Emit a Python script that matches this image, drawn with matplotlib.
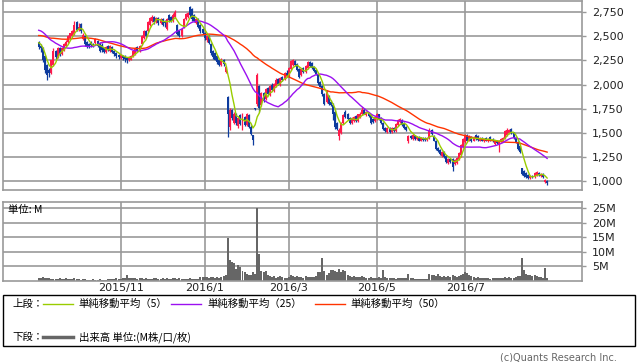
import numpy as np
import pandas as pd
import matplotlib
matplotlib.use('Agg')
import matplotlib.pyplot as plt
from matplotlib.lines import Line2D
from matplotlib.patches import Rectangle
from matplotlib.ticker import FuncFormatter

#%% Data (daily OHLC, volume in millions)
open_ = [2440, 2400, 2380, 2300, 2200, 2150, 2120, 2200, 2350, 2290,
         2380, 2320, 2360, 2400, 2440, 2480, 2500, 2520, 2650, 2570,
         2630, 2470, 2500, 2440, 2420, 2440, 2420, 2430, 2450, 2430,
         2410, 2380, 2340, 2400, 2350, 2390, 2350, 2330, 2310, 2280,
         2300, 2300, 2280, 2250, 2260, 2300, 2320, 2390, 2350, 2420,
         2480, 2560, 2560, 2620, 2660, 2700, 2650, 2690, 2640, 2680,
         2660, 2580, 2720, 2700, 2660, 2700, 2620, 2560, 2500, 2600,
         2680, 2700, 2800, 2780, 2720, 2640, 2680, 2620, 2580, 2540,
         2460, 2500, 2420, 2350, 2330, 2300, 2260, 2200, 2260, 2130,
         1870, 1560, 1740, 1600, 1700, 1570, 1680, 1560, 1660, 1580,
         1680, 1560, 1480, 1755, 1800, 1990, 1790, 1910, 1850, 1960,
         1890, 2000, 1930, 1990, 2060, 2000, 2080, 2060, 2120, 2090,
         2160, 2200, 2240, 2210, 2160, 2100, 2170, 2130, 2170, 2230,
         2220, 2180, 2150, 2100, 2030, 1990, 1900, 1820, 1880, 1820,
         1790, 1720, 1600, 1470, 1500, 1600, 1720, 1700, 1650, 1600,
         1620, 1670, 1620, 1660, 1690, 1740, 1680, 1710, 1680, 1640,
         1620, 1640, 1690, 1650, 1600, 1550, 1510, 1550, 1510, 1550,
         1520, 1580, 1610, 1630, 1600, 1560, 1410, 1470, 1440, 1470,
         1440, 1460, 1420, 1450, 1450, 1430, 1450, 1530, 1470, 1420,
         1340, 1320, 1260, 1300, 1260, 1190, 1230, 1230, 1180, 1190,
         1230, 1270, 1350, 1400, 1480, 1420, 1460, 1420, 1480, 1470,
         1420, 1450, 1410, 1450, 1410, 1460, 1440, 1380, 1420, 1370,
         1410, 1430, 1450, 1480, 1500, 1540, 1500, 1450, 1400, 1360,
         1130, 1100, 1080, 1060, 1030, 1050, 1040, 1060, 1080, 1050,
         1070, 985, 1005]
close = [2390, 2380, 2250, 2150, 2100, 2120, 2250, 2350, 2290, 2380,
         2320, 2380, 2420, 2440, 2500, 2530, 2560, 2620, 2570, 2600,
         2560, 2510, 2420, 2390, 2400, 2410, 2400, 2470, 2400, 2350,
         2360, 2340, 2390, 2360, 2400, 2340, 2320, 2300, 2290, 2310,
         2280, 2270, 2260, 2290, 2300, 2350, 2380, 2350, 2400, 2500,
         2560, 2500, 2650, 2690, 2700, 2650, 2690, 2640, 2680, 2620,
         2640, 2680, 2670, 2660, 2720, 2750, 2520, 2500, 2580, 2680,
         2730, 2740, 2720, 2680, 2660, 2680, 2600, 2560, 2540, 2480,
         2500, 2430, 2330, 2290, 2260, 2230, 2200, 2260, 2210, 2180,
         1690, 1740, 1650, 1700, 1600, 1650, 1590, 1680, 1580, 1690,
         1560, 1490, 1430, 1745, 2100, 1760, 1910, 1830, 1950, 1900,
         1990, 1940, 2010, 2050, 2010, 2070, 2050, 2120, 2090, 2170,
         2240, 2250, 2200, 2150, 2080, 2160, 2130, 2190, 2230, 2190,
         2170, 2140, 2110, 2020, 1980, 1900, 1800, 1920, 1800, 1790,
         1700, 1560, 1540, 1530, 1600, 1680, 1660, 1640, 1600, 1650,
         1660, 1620, 1690, 1700, 1740, 1700, 1720, 1670, 1600, 1610,
         1660, 1690, 1640, 1600, 1540, 1520, 1550, 1510, 1550, 1520,
         1590, 1630, 1640, 1580, 1550, 1530, 1470, 1450, 1480, 1440,
         1460, 1420, 1450, 1430, 1430, 1450, 1530, 1490, 1420, 1330,
         1310, 1280, 1300, 1250, 1200, 1230, 1200, 1150, 1220, 1240,
         1290, 1370, 1440, 1480, 1420, 1470, 1410, 1460, 1440, 1430,
         1450, 1420, 1440, 1420, 1440, 1430, 1410, 1420, 1390, 1420,
         1440, 1450, 1520, 1530, 1530, 1500, 1450, 1400, 1330, 1300,
         1070, 1050, 1040, 1030, 1050, 1040, 1080, 1090, 1060, 1070,
         1040, 1010, 975]
high = [2450, 2420, 2390, 2310, 2210, 2170, 2260, 2380, 2360, 2390,
        2390, 2390, 2430, 2460, 2510, 2540, 2570, 2660, 2660, 2640,
        2640, 2530, 2510, 2450, 2430, 2450, 2430, 2480, 2460, 2440,
        2430, 2390, 2400, 2410, 2410, 2400, 2360, 2340, 2320, 2320,
        2310, 2310, 2290, 2300, 2310, 2360, 2390, 2400, 2410, 2510,
        2570, 2570, 2660, 2700, 2720, 2710, 2700, 2700, 2690, 2690,
        2670, 2690, 2730, 2710, 2740, 2770, 2630, 2570, 2590, 2690,
        2740, 2750, 2810, 2790, 2730, 2690, 2690, 2630, 2590, 2550,
        2510, 2510, 2430, 2360, 2340, 2310, 2270, 2280, 2270, 2190,
        1880, 1757, 1750, 1716, 1710, 1665, 1690, 1705, 1670, 1705,
        1690, 1580, 1480, 1760, 2120, 2000, 1920, 1920, 1960, 1970,
        2000, 2016, 2020, 2068, 2070, 2080, 2090, 2130, 2150, 2180,
        2255, 2270, 2250, 2220, 2170, 2170, 2180, 2200, 2240, 2240,
        2230, 2190, 2160, 2110, 2040, 2000, 1910, 1945, 1890, 1840,
        1810, 1736, 1610, 1550, 1610, 1690, 1736, 1710, 1665, 1660,
        1670, 1680, 1700, 1715, 1767, 1757, 1730, 1720, 1690, 1653,
        1670, 1705, 1700, 1665, 1610, 1560, 1560, 1560, 1560, 1560,
        1600, 1640, 1650, 1640, 1610, 1570, 1480, 1480, 1490, 1480,
        1470, 1470, 1460, 1460, 1460, 1460, 1550, 1540, 1480, 1425,
        1350, 1330, 1310, 1310, 1270, 1240, 1240, 1240, 1230, 1250,
        1300, 1380, 1450, 1490, 1490, 1480, 1470, 1470, 1490, 1480,
        1460, 1460, 1450, 1460, 1450, 1470, 1450, 1430, 1430, 1430,
        1450, 1460, 1530, 1550, 1540, 1550, 1510, 1460, 1410, 1370,
        1140, 1110, 1090, 1070, 1060, 1060, 1090, 1100, 1090, 1080,
        1080, 1020, 1010]
low = [2370, 2340, 2230, 2120, 2047, 2080, 2110, 2190, 2270, 2280,
       2300, 2310, 2350, 2390, 2430, 2470, 2490, 2510, 2560, 2560,
       2540, 2460, 2400, 2380, 2380, 2390, 2390, 2420, 2390, 2340,
       2340, 2330, 2330, 2350, 2340, 2330, 2300, 2280, 2270, 2270,
       2260, 2230, 2220, 2240, 2250, 2290, 2310, 2340, 2340, 2410,
       2470, 2480, 2550, 2610, 2650, 2630, 2640, 2620, 2630, 2610,
       2600, 2570, 2650, 2650, 2650, 2690, 2510, 2490, 2490, 2590,
       2670, 2690, 2700, 2660, 2650, 2630, 2590, 2540, 2520, 2460,
       2440, 2420, 2310, 2270, 2250, 2210, 2190, 2190, 2190, 2120,
       1456, 1530, 1630, 1590, 1580, 1550, 1580, 1530, 1570, 1570,
       1550, 1477, 1373, 1740, 1780, 1716, 1780, 1820, 1840, 1890,
       1880, 1930, 1920, 1980, 2000, 1990, 2040, 2050, 2080, 2080,
       2150, 2190, 2190, 2140, 2070, 2090, 2120, 2120, 2160, 2180,
       2160, 2130, 2100, 2000, 1970, 1880, 1790, 1810, 1790, 1780,
       1630, 1540, 1530, 1430, 1490, 1590, 1650, 1630, 1590, 1590,
       1610, 1610, 1610, 1650, 1680, 1690, 1670, 1660, 1590, 1600,
       1610, 1630, 1630, 1590, 1530, 1508, 1500, 1500, 1500, 1510,
       1510, 1570, 1600, 1570, 1540, 1520, 1390, 1440, 1430, 1430,
       1430, 1410, 1410, 1420, 1420, 1420, 1440, 1480, 1410, 1320,
       1300, 1270, 1250, 1240, 1190, 1180, 1190, 1100, 1170, 1180,
       1218, 1250, 1340, 1390, 1410, 1410, 1400, 1410, 1430, 1420,
       1410, 1410, 1400, 1410, 1400, 1420, 1400, 1370, 1380, 1300,
       1400, 1420, 1440, 1470, 1490, 1490, 1440, 1390, 1320, 1290,
       1060, 1040, 1030, 1020, 1020, 1030, 1030, 1050, 1050, 1040,
       1030, 979, 958]
volume = [0.9, 1.0, 1.1, 1.0, 0.9, 0.8, 0.6, 0.6, 0.5, 0.5,
          0.7, 0.6, 0.6, 0.9, 0.6, 0.5, 0.4, 0.8, 0.6, 0.4,
          0.3, 0.4, 0.4, 0.3, 0.3, 0.3, 0.4, 0.3, 0.3, 0.4,
          0.3, 0.3, 0.3, 0.4, 0.4, 0.5, 0.6, 0.7, 0.6, 0.5,
          0.7, 0.9, 1.8, 1.0, 0.8, 0.7, 0.8, 0.6, 0.7, 1.0,
          0.6, 0.8, 0.5, 0.5, 0.6, 0.7, 1.0, 0.6, 0.5, 0.8,
          0.6, 0.7, 0.5, 0.6, 0.8, 0.9, 0.6, 0.7, 0.6, 0.5,
          0.5, 0.6, 0.8, 0.6, 0.5, 0.5, 0.6, 1.2, 1.3, 1.2,
          1.1, 1.0, 1.3, 1.2, 1.0, 1.1, 1.0, 1.2, 1.4, 1.8,
          14.7, 7.2, 6.5, 5.9, 3.8, 5.3, 4.5, 3.3, 2.8, 2.4,
          1.8, 2.0, 3.0, 2.2, 25.2, 9.0, 3.4, 3.0, 3.2, 2.0,
          1.6, 1.2, 1.4, 1.0, 1.3, 1.5, 1.1, 0.9, 1.0, 1.2,
          2.0, 1.4, 1.2, 1.5, 1.3, 1.1, 1.0, 1.4, 1.2, 1.1,
          1.1, 1.3, 1.5, 2.9, 3.0, 7.9, 3.3, 2.0, 2.6, 3.6,
          3.5, 3.2, 2.8, 3.9, 3.0, 3.6, 3.2, 1.8, 1.5, 1.3,
          1.6, 1.2, 1.1, 1.3, 1.5, 1.2, 1.0, 0.9, 1.1, 0.8,
          0.9, 1.0, 1.3, 1.0, 3.6, 1.2, 0.9, 0.8, 0.7, 0.7,
          0.6, 0.8, 0.8, 1.0, 0.8, 0.7, 2.4, 1.0, 0.7, 0.6,
          0.5, 0.6, 0.6, 0.5, 0.5, 0.6, 2.2, 1.8, 1.9, 1.7,
          2.4, 1.4, 1.3, 1.5, 1.2, 1.4, 1.3, 1.8, 1.5, 1.2,
          1.5, 1.8, 2.2, 3.0, 2.5, 1.9, 1.4, 1.2, 1.0, 1.1,
          0.9, 1.0, 0.8, 0.7, 0.9, 0.6, 0.8, 0.7, 0.9, 1.0,
          0.8, 0.9, 1.3, 1.0, 1.2, 1.0, 0.9, 1.1, 1.4, 1.6,
          7.6, 3.6, 2.4, 1.8, 1.8, 1.7, 1.9, 1.5, 1.2, 1.3,
          1.0, 4.4, 0.9]
# closes before the first shown day (only used to start the moving averages)
close_before = [2420, 2440, 2470, 2450, 2430, 2400, 2380, 2410, 2450, 2480,
                2500, 2470, 2440, 2420, 2450, 2480, 2510, 2490, 2460, 2430,
                2420, 2450, 2480, 2500, 2520,
                2560, 2600, 2640, 2680, 2700, 2690, 2670, 2680, 2660, 2640,
                2650, 2620, 2600, 2580,
                2540, 2510, 2480, 2500, 2470, 2450,
                2460, 2430, 2440, 2450]

month_idx = [39, 79, 119, 161, 203]
month_labels = ['2015/11', '2016/1', '2016/3', '2016/5', '2016/7']
price_ticks = [1000, 1250, 1500, 1750, 2000, 2250, 2500, 2750]
vol_ticks = [5, 10, 15, 20, 25]

#%% Styles
UP = '#ff1a4a' ; DOWN = '#0d3b9e'
MA_COL = {5: '#99cc00', 25: '#9b10f0', 50: '#ff3300'}
GRID = '#999999'
VOL_COL = '#666666'
CJK = ['Noto Sans CJK JP', 'DejaVu Sans']

W, H = 638, 362
def fx(x): return x / W
def fy(y): return 1 - y / H

#%% Moving averages
o = np.array(open_) ; c = np.array(close)
hi = np.array(high) ; lo = np.array(low)
xx = np.arange(len(c))
allc = pd.Series(close_before + close, dtype=float)
ma = {n: allc.rolling(n).mean().values[len(close_before):] for n in (5, 25, 50)}

#%% Figure
fig = plt.figure(figsize=(W/100, H/100), dpi=100)
ax = fig.add_axes([fx(3), fy(190), fx(582)-fx(3), fy(1)-fy(190)])
axv = fig.add_axes([fx(3), fy(280.5), fx(582)-fx(3), fy(202)-fy(280.5)])

for a in (ax, axv):
    a.set_xlim(-17, 258.6)
    a.set_xticks(month_idx)
    a.grid(True, color=GRID, lw=1.2)
    a.set_axisbelow(True)
    for s in a.spines.values():
        s.set_color(GRID) ; s.set_linewidth(1.2)
    a.yaxis.tick_right()
    a.tick_params(axis='y', length=3, width=1, color=GRID, labelsize=8,
                  labelcolor='#222222', pad=4)
    a.tick_params(axis='x', length=0)

# candles
col = np.where(c >= o, UP, DOWN)
ax.vlines(xx, lo, hi, colors=col, lw=0.9)
ax.bar(xx, np.abs(c - o), bottom=np.minimum(o, c), width=0.95, color=col, lw=0)
for n in (50, 25, 5):
    ax.plot(xx, ma[n], color=MA_COL[n], lw=1.0)
ax.set_ylim(907, 2867)
ax.set_yticks(price_ticks)
ax.yaxis.set_major_formatter(FuncFormatter(lambda v, p: f'{v:,.0f}'))
ax.tick_params(axis='x', labelbottom=False)

# volume
axv.bar(xx, volume, width=0.95, color=VOL_COL, lw=0)
axv.set_ylim(0, 27.1)
axv.set_yticks(vol_ticks)
axv.yaxis.set_major_formatter(FuncFormatter(lambda v, p: f'{v:.0f}M'))
axv.set_xticklabels(month_labels)
axv.tick_params(axis='x', labelsize=8, labelcolor='#222222', pad=2)
fig.text(fx(8), fy(210), '単位: M', family=CJK, fontsize=7.5, va='center')

#%% Legend box
fig.patches.append(Rectangle((fx(3), fy(346)), fx(635)-fx(3), fy(295)-fy(346),
                             transform=fig.transFigure, fill=False, ec='black', lw=1))
ly1, ly2 = fy(304), fy(337)
fig.text(fx(12), ly1, '上段：', family=CJK, fontsize=7.5, va='center')
items = [(43, 78, 5, '単純移動平均（5）'), (171, 207, 25, '単純移動平均（25）'),
         (315, 350, 50, '単純移動平均（50）')]
for x0, xt, n, lab in items:
    fig.add_artist(Line2D([fx(x0), fx(x0+30)], [ly1, ly1], color=MA_COL[n], lw=1))
    fig.text(fx(xt), ly1, lab, family=CJK, fontsize=7.5, va='center')
fig.text(fx(12), ly2, '下段：', family=CJK, fontsize=7.5, va='center')
fig.add_artist(Line2D([fx(43), fx(73)], [ly2, ly2], color=VOL_COL, lw=2.5))
fig.text(fx(79), ly2, '出来高 単位:(M株/口/枚)', family=CJK, fontsize=7.5, va='center')

fig.text(fx(617), fy(357), '(c)Quants Research Inc.', fontsize=7, color='#666666',
         ha='right', va='center')

fig.savefig('out.png', dpi=100)
